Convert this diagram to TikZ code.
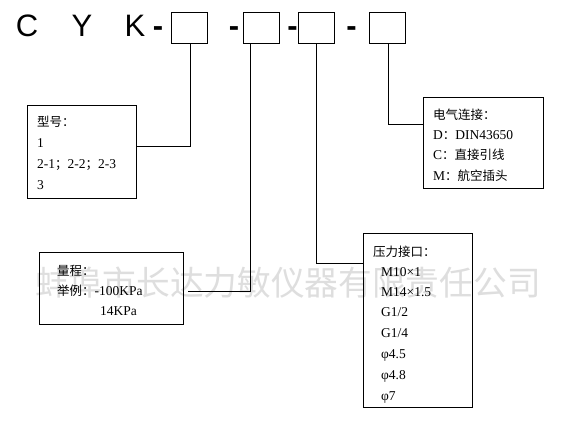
\documentclass[tikz,border=0pt]{standalone}
\usepackage{fontspec}
\setmainfont{Liberation Serif}
\newfontfamily\cjkfont{Noto Sans CJK SC}
\newfontfamily\titlefont{Liberation Sans}
\newcommand{\zhtxt}[1]{{\cjkfont\fontsize{12.5}{15}\selectfont #1}}
\begin{document}
\begin{tikzpicture}[x=1pt,y=-1pt,
  lbl/.style={anchor=base west,inner sep=0pt,font=\fontsize{13.5}{16}\selectfont},
  ttl/.style={anchor=base,inner sep=0pt,font=\titlefont\fontsize{31}{34}\selectfont},
  dsh/.style={anchor=base,inner sep=0pt,font=\titlefont\bfseries\fontsize{31}{34}\selectfont},
  sbox/.style={draw,line width=1pt,inner sep=0pt,anchor=north west,minimum width=36pt,minimum height=31pt},
  bbox/.style={draw,line width=1pt,inner sep=0pt,anchor=north west},
  conn/.style={line width=1pt},
  wm/.style={inner sep=0pt,text=black!13,font=\cjkfont\fontsize{33.7}{36}\selectfont}]
\useasboundingbox (0,0) rectangle (588,422);
\fill[white] (0,0) rectangle (588,422);
% watermark
\node[wm] (wmark) at (288,283) {蚌埠市长达力敏仪器有限责任公司};
% title
\node[ttl] (tC) at (27,37) {C};
\node[ttl] (tY) at (82,37) {Y};
\node[ttl] (tK) at (135,37) {K};
\node[dsh] (d1) at (158,37) {-};
\node[dsh] (d2) at (234,37) {-};
\node[dsh] (d3) at (292.5,37) {-};
\node[dsh] (d4) at (351.5,37) {-};
\node[sbox] (b1) at (171,12) {};
\node[sbox] (b2) at (243,12) {};
\node[sbox] (b3) at (298,12) {};
\node[sbox] (b4) at (369,12) {};
% boxes
\node[bbox,minimum width=109pt,minimum height=93pt] (model) at (27,105) {};
\node[bbox,minimum width=144pt,minimum height=72pt] (range) at (39,252) {};
\node[bbox,minimum width=109pt,minimum height=174pt] (press) at (363,233) {};
\node[bbox,minimum width=120pt,minimum height=91pt] (elec) at (423,97) {};
% model text
\node[lbl] (m0) at (37,127) {\zhtxt{型号：}};
\node[lbl] (m1) at (37,148) {1};
\node[lbl] (m2) at (37,168) {2-1\zhtxt{；}2-2\zhtxt{；}2-3};
\node[lbl] (m3) at (37,189) {3};
% range text
\node[lbl] (r0) at (57,275) {\zhtxt{量程：}};
\node[lbl] (r1) at (57,295) {\zhtxt{举例：}-100KPa};
\node[lbl] (r2) at (100,315) {14KPa};
% electrical text
\node[lbl] (e0) at (433,120) {\zhtxt{电气连接：}};
\node[lbl] (e1) at (433,140) {D\zhtxt{：}DIN43650};
\node[lbl] (e2) at (433,160) {C\zhtxt{：直接引线}};
\node[lbl] (e3) at (433,180) {M\zhtxt{：航空插头}};
% pressure text
\node[lbl] (p0) at (373,256) {\zhtxt{压力接口：}};
\node[lbl] (p1) at (381,276) {M10×1};
\node[lbl] (p2) at (381,296) {M14×1.5};
\node[lbl] (p3) at (381,316) {G1/2};
\node[lbl] (p4) at (381,337) {G1/4};
\node[lbl] (p5) at (381,358) {φ4.5};
\node[lbl] (p6) at (381,379) {φ4.8};
\node[lbl] (p7) at (381,400) {φ7};
% connectors
\coordinate (k1) at (190,147);
\coordinate (k2) at (250,291);
\coordinate (k2e) at (188,291);
\coordinate (k3) at (316,263);
\coordinate (k4) at (388,125);
\draw[conn] (b1.south -| k1) -- (k1) -- (k1 -| model.east);
\draw[conn] (b2.south -| k2) -- (k2) -- (k2e);
\draw[conn] (b3.south -| k3) -- (k3) -- (k3 -| press.west);
\draw[conn] (b4.south -| k4) -- (k4) -- (k4 -| elec.west);
\end{tikzpicture}
\end{document}
